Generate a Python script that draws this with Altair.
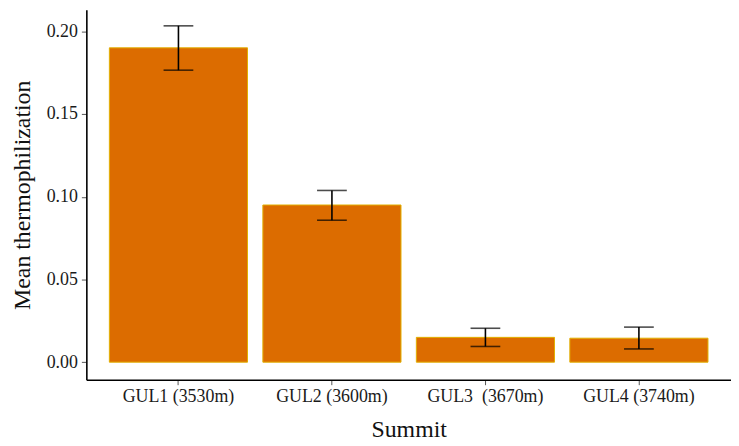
import altair as alt
import pandas as pd

summits = ["GUL1 (3530m)", "GUL2 (3600m)", "GUL3  (3670m)", "GUL4 (3740m)"]
means = [0.190, 0.095, 0.0150, 0.0145]
err_low = [0.1765, 0.0858, 0.0095, 0.0080]
err_high = [0.2033, 0.1038, 0.0205, 0.0212]

df = pd.DataFrame({"summit": summits, "mean": means, "lo": err_low, "hi": err_high})

FONT = "Liberation Serif"
ydom = [-0.0106, 0.2130]

x = alt.X("summit:N", sort=summits, title="Summit",
          scale=alt.Scale(paddingInner=0.1, paddingOuter=0.15),
          axis=alt.Axis(labelAngle=0, labelFont=FONT, labelFontSize=18, labelColor="#1a1a1a",
                        labelExpr="replace(datum.label, '  ', '\u00a0\u00a0')",
                        titleFont=FONT, titleFontSize=24, titleFontWeight="normal", titleColor="#111",
                        titlePadding=12, labelPadding=3, tickSize=5, tickColor="#555",
                        domainColor="#000", domainWidth=1.6))

bars = alt.Chart(df).mark_bar(color="#DC6C00", stroke="#E2B000", strokeWidth=1).encode(
    x=x,
    y=alt.Y("mean:Q", title="Mean thermophilization",
            scale=alt.Scale(domain=ydom, nice=False, zero=False),
            axis=alt.Axis(values=[0, 0.05, 0.10, 0.15, 0.20], format=".2f", grid=False,
                          labelFont=FONT, labelFontSize=18, labelColor="#1a1a1a",
                          titleFont=FONT, titleFontSize=24, titleFontWeight="normal", titleColor="#111",
                          titlePadding=12, labelPadding=4, tickSize=5, tickColor="#555",
                          domainColor="#000", domainWidth=1.6)),
)

rules = alt.Chart(df).mark_rule(color="#000", strokeWidth=1.6).encode(
    x=alt.X("summit:N", sort=summits), y="lo:Q", y2="hi:Q")
tick_lo = alt.Chart(df).mark_tick(color="#000", thickness=1.6, size=30, orient="horizontal").encode(
    x=alt.X("summit:N", sort=summits), y="lo:Q")
tick_hi = alt.Chart(df).mark_tick(color="#000", thickness=1.6, size=30, orient="horizontal").encode(
    x=alt.X("summit:N", sort=summits), y="hi:Q")

chart = (bars + rules + tick_lo + tick_hi).properties(
    width=650, height=373, padding={"left": 2, "top": 0, "right": 0, "bottom": 0}
).configure(background="white", view=alt.ViewConfig(strokeWidth=0, stroke="transparent"))

chart.save("out.html", embed_options={"renderer": "svg", "actions": False})
